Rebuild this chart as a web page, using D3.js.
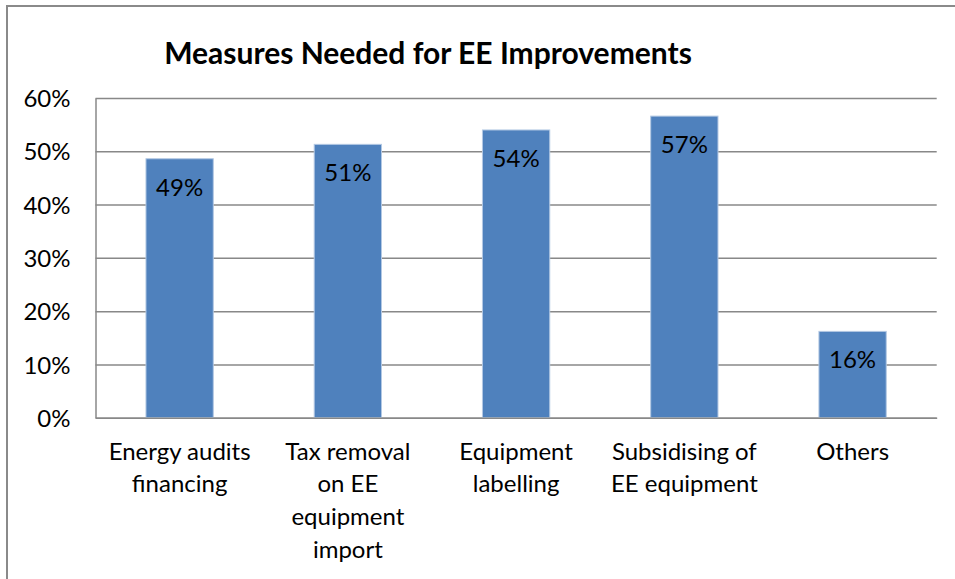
<!DOCTYPE html>
<html>
<head>
<meta charset="utf-8">
<script src="https://cdn.jsdelivr.net/npm/d3@7/dist/d3.min.js"></script>
<style>
  html, body { margin: 0; padding: 0; background: #fff; }
  svg { display: block; }
  text { font-family: Lato, "Open Sans", sans-serif; fill: #000; }
</style>
</head>
<body>
<svg id="chart" width="955" height="579"></svg>
<script>
// Survey results: share of respondents naming each measure
const categories = [
  "Energy audits\nfinancing",
  "Tax removal\non EE\nequipment\nimport",
  "Equipment\nlabelling",
  "Subsidising of\nEE equipment",
  "Others"
];
const shares = [0.486, 0.513, 0.540, 0.566, 0.162];
const tickValues = [0, 0.1, 0.2, 0.3, 0.4, 0.5, 0.6];
const chartTitle = "Measures Needed for EE Improvements";

const svg = d3.select("#chart");
const margin = { left: 95.5, right: 18.3, top: 98, bottom: 161.3 };
const W = 955 - margin.left - margin.right;
const H = 579 - margin.top - margin.bottom;
const fontSize = 24;

// outer chart frame
svg.append("rect")
  .attr("x", 7).attr("y", 6)
  .attr("width", 960).attr("height", 600)
  .attr("fill", "none")
  .attr("stroke", "#8a8a8a")
  .attr("stroke-width", 2);

svg.append("text")
  .attr("x", 428).attr("y", 64)
  .attr("text-anchor", "middle")
  .attr("font-weight", "bold")
  .attr("font-size", 30)
  .text(chartTitle);

const g = svg.append("g").attr("transform", `translate(${margin.left},${margin.top})`);

const x = d3.scaleBand()
  .domain(categories)
  .range([0, W])
  .paddingInner(0.6)
  .paddingOuter(0.3);

const y = d3.scaleLinear().domain([0, 0.6]).range([H, 0]);

// value axis with horizontal gridlines
const yAxis = g.append("g")
  .call(d3.axisLeft(y)
    .tickValues(tickValues)
    .tickFormat(d3.format(".0%"))
    .tickSize(-W)
    .tickSizeOuter(0)
    .tickPadding(25));
yAxis.select(".domain").attr("stroke", "#888").attr("stroke-width", 1.5);
yAxis.selectAll(".tick line").attr("stroke", "#888").attr("stroke-width", 1.5);
yAxis.selectAll(".tick text")
  .attr("font-size", fontSize)
  .attr("font-family", "Lato, sans-serif")
  .attr("fill", "#000")
  .attr("dy", "0.36em");

// bars
g.selectAll("rect.bar")
  .data(shares)
  .join("rect")
  .attr("class", "bar")
  .attr("x", (d, i) => x(categories[i]))
  .attr("y", d => y(d))
  .attr("width", x.bandwidth())
  .attr("height", d => H - y(d))
  .attr("fill", "#4f81bd")
  .attr("stroke", "#b3c8e3")
  .attr("stroke-width", 1);

// value labels just inside the bar tops
g.selectAll("text.val")
  .data(shares)
  .join("text")
  .attr("class", "val")
  .attr("x", (d, i) => x(categories[i]) + x.bandwidth() / 2)
  .attr("y", d => y(d) + 37)
  .attr("text-anchor", "middle")
  .attr("font-size", fontSize)
  .text(d => d3.format(".0%")(d));

// category axis
const xAxis = g.append("g")
  .attr("transform", `translate(0,${H})`)
  .call(d3.axisBottom(x).tickSize(0).tickSizeOuter(0).tickFormat(""));
xAxis.select(".domain").attr("stroke", "#888").attr("stroke-width", 1.5);

xAxis.selectAll(".tick").each(function(d) {
  const t = d3.select(this).append("text")
    .attr("text-anchor", "middle")
    .attr("font-size", fontSize)
    .attr("font-family", "Lato, sans-serif")
    .attr("fill", "#000");
  d.split("\n").forEach((line, k) => {
    t.append("tspan").attr("x", 0).attr("y", 42 + k * 32.7).text(line);
  });
});
</script>
</body>
</html>
